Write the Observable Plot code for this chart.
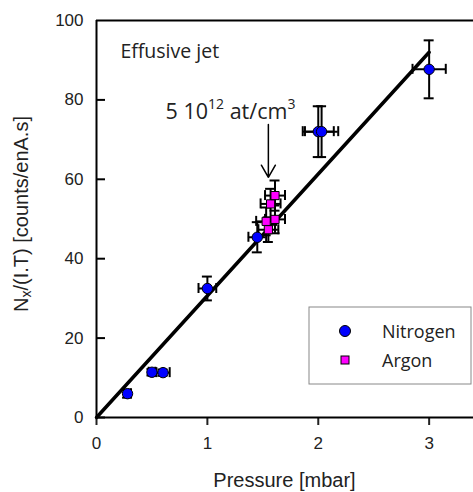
<!DOCTYPE html>
<html><head><meta charset="utf-8">
<script src="https://cdn.jsdelivr.net/npm/d3@7"></script>
<script src="https://cdn.jsdelivr.net/npm/@observablehq/plot@0.6"></script>
<style>body{margin:0;background:#fff}svg{display:block}</style>
</head><body><div id="chart"></div>
<script>
// Nitrogen series
const n2X  = [0.28, 0.50, 0.60, 1.00, 1.45, 2.00, 2.03, 3.00];
const n2Y  = [6.0, 11.4, 11.3, 32.5, 45.4, 72.0, 72.0, 87.7];
const n2Ex = [0.03, 0.03, 0.06, 0.08, 0.08, 0.14, 0.15, 0.15];
const n2Ey = [1.0, 0.8, 0.8, 3.0, 3.8, 6.4, 6.4, 7.3];
// Argon series
const arX  = [1.53, 1.55, 1.57, 1.61, 1.61];
const arY  = [49.4, 47.3, 53.8, 55.9, 49.9];
const arEx = [0.09, 0.09, 0.09, 0.09, 0.09];
const arEy = [3.5, 3.1, 3.8, 3.8, 3.5];
// Linear fit
const fitX = [0, 3.0];
const fitY = [0, 92];
// Ticks
const xTicks = [0, 1, 2, 3];
const yTicks = [0, 20, 40, 60, 80, 100];
// Annotation
const annX = 1.55, annYtop = 73.8, annYbot = 60.5;

const n2 = n2X.map((x,i)=>({x, y:n2Y[i], ex:n2Ex[i], ey:n2Ey[i]}));
const ar = arX.map((x,i)=>({x, y:arY[i], ex:arEx[i], ey:arEy[i]}));
const fit = fitX.map((x,i)=>({x, y:fitY[i]}));

const W = 473, H = 492;
const capX = 5/111, capY = 5/3.97;

function errMarks(data) {
  return [
    Plot.ruleX(data, {x:"x", y1:d=>d.y-d.ey, y2:d=>d.y+d.ey, stroke:"black", strokeWidth:2}),
    Plot.ruleY(data, {y:d=>d.y+d.ey, x1:d=>d.x-capX, x2:d=>d.x+capX, stroke:"black", strokeWidth:2}),
    Plot.ruleY(data, {y:d=>d.y-d.ey, x1:d=>d.x-capX, x2:d=>d.x+capX, stroke:"black", strokeWidth:2}),
    Plot.ruleY(data, {y:"y", x1:d=>d.x-d.ex, x2:d=>d.x+d.ex, stroke:"black", strokeWidth:2}),
    Plot.ruleX(data, {x:d=>d.x-d.ex, y1:d=>d.y-capY, y2:d=>d.y+capY, stroke:"black", strokeWidth:2}),
    Plot.ruleX(data, {x:d=>d.x+d.ex, y1:d=>d.y-capY, y2:d=>d.y+capY, stroke:"black", strokeWidth:2})
  ];
}

const plot = Plot.plot({
  width: W, height: H,
  marginLeft: 96, marginRight: 0, marginTop: 20, marginBottom: 75,
  style: {fontFamily: "Liberation Sans, Arial, sans-serif", fontSize: "17px", color: "#222"},
  x: {domain: [0, 3.4]},
  y: {domain: [0, 100]},
  marks: [
    Plot.axisX({ticks: xTicks, tickSize: 8, tickPadding: 11, tickFormat: d=>d, label: null, strokeWidth: 2, fontSize: 17}),
    Plot.axisY({ticks: yTicks, tickSize: 0, tickPadding: 13, tickFormat: d=>d, label: null, fontSize: 17}),
    Plot.ruleY(yTicks.slice(0,-1), {x1: 0, x2: 9/111, stroke: "black", strokeWidth: 2}),
    Plot.ruleY([0, 100], {stroke: "black", strokeWidth: 2}),
    Plot.ruleX([0], {stroke: "black", strokeWidth: 2}),
    Plot.line(fit, {x:"x", y:"y", stroke:"black", strokeWidth:3.5}),
    ...errMarks(n2),
    ...errMarks(ar),
    Plot.dot(n2, {x:"x", y:"y", r:5.2, fill:"#0000ff", stroke:"black", strokeWidth:1}),
    Plot.dot(ar, {x:"x", y:"y", r:4.6, symbol:"square", fill:"#ff00ff", stroke:"black", strokeWidth:1}),
    Plot.arrow([{x:annX}], {x:"x", y1:()=>annYtop, y2:()=>annYbot, stroke:"black", strokeWidth:1.5, headLength:14})
  ]
});
document.getElementById("chart").appendChild(plot);

const svg = d3.select(plot);
const sx = plot.scale("x"), sy = plot.scale("y");
const arial = "Liberation Sans, Arial, sans-serif";
const calib = "Open Sans, Lato, sans-serif";

// axis titles
svg.append("text").attr("x", (96+W)/2).attr("y", 480).attr("text-anchor","middle")
  .attr("dominant-baseline","central").attr("font-family", arial).attr("font-size", 20).attr("fill","#222")
  .text("Pressure [mbar]");
const yt = svg.append("text").attr("transform","translate(21,214) rotate(-90)").attr("text-anchor","middle")
  .attr("dominant-baseline","central").attr("font-family", arial).attr("font-size", 20).attr("fill","#222");
yt.append("tspan").text("N");
yt.append("tspan").attr("font-size", 14).attr("dy", 5).text("x");
yt.append("tspan").attr("dy", -5).text("/(I.T) [counts/enA.s]");

// Effusive jet
svg.append("text").attr("x", sx.apply(0.22)).attr("y", sy.apply(92.4)).attr("dominant-baseline","central")
  .attr("text-anchor","start")
  .attr("font-family", calib).attr("font-size", 19.5).attr("fill","#222").text("Effusive jet");

// annotation text
const at = svg.append("text").attr("x", 230.5).attr("y", 119).attr("text-anchor","middle")
  .attr("font-family", calib).attr("font-size", 21.5).attr("fill","#222");
at.append("tspan").text("5 10");
at.append("tspan").attr("font-size", 14).attr("dy", -10).text("12");
at.append("tspan").attr("dy", 10).text(" at/cm");
at.append("tspan").attr("font-size", 14).attr("dy", -10).text("3");

// legend
const lg = svg.append("g").attr("text-anchor","start");
lg.append("rect").attr("x", 309).attr("y", 307).attr("width", 162).attr("height", 77)
  .attr("fill","white").attr("stroke","#888").attr("stroke-width",1);
lg.append("circle").attr("cx", 345).attr("cy", 331).attr("r", 5.5).attr("fill","#0000ff").attr("stroke","black");
lg.append("rect").attr("x", 341).attr("y", 356).attr("width", 8).attr("height", 8).attr("fill","#ff00ff").attr("stroke","black");
lg.append("text").attr("x", 382).attr("y", 331).attr("dominant-baseline","central").attr("font-family", calib)
  .attr("font-size", 18).attr("fill","#222").text("Nitrogen");
lg.append("text").attr("x", 382).attr("y", 360).attr("dominant-baseline","central").attr("font-family", calib)
  .attr("font-size", 18).attr("fill","#222").text("Argon");
</script></body></html>
